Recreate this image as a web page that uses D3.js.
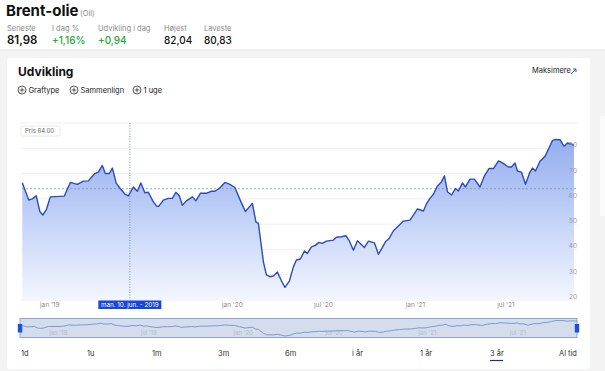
<!doctype html>
<html>
  <head>
    <title>Brent-olie</title>
    <meta charset="utf-8">
    <script src="https://cdn.jsdelivr.net/npm/d3@7"></script>
    <style>
      body { margin: 0; background: #fff; }
      svg { display: block; font-family: Inter, "Noto Sans", sans-serif; }
    </style>
  </head>
  <body>
    <div id="svgContainer"></div>
  </body>
  <script>
    var width = 605,
      height = 371;

    // weekly-ish closes
    var dates = [
      "2018-11-07","2018-11-20","2018-11-27","2018-12-05","2018-12-12","2018-12-18","2018-12-25",
      "2019-01-02","2019-01-30","2019-02-11","2019-02-25","2019-03-09","2019-03-19","2019-04-01",
      "2019-04-08","2019-04-16","2019-04-22","2019-04-30","2019-05-06","2019-05-14","2019-05-21",
      "2019-05-31","2019-06-07","2019-06-17","2019-06-25","2019-07-02","2019-07-10","2019-07-17",
      "2019-07-27","2019-08-02","2019-08-07","2019-08-16","2019-08-26","2019-09-03","2019-09-10",
      "2019-09-17","2019-09-23","2019-10-01","2019-10-13","2019-10-20","2019-10-29","2019-11-10",
      "2019-11-20","2019-11-27","2019-12-07","2019-12-17","2019-12-27","2020-01-06","2020-01-16",
      "2020-01-27","2020-02-10","2020-02-17","2020-02-22","2020-03-03","2020-03-09","2020-03-16",
      "2020-03-23","2020-03-31","2020-04-08","2020-04-15","2020-04-24","2020-05-02","2020-05-08",
      "2020-05-16","2020-05-24","2020-05-30","2020-06-07","2020-06-15","2020-06-22","2020-06-29",
      "2020-07-07","2020-07-21","2020-07-27","2020-08-06","2020-08-15","2020-08-21","2020-08-30",
      "2020-09-07","2020-09-21","2020-09-29","2020-10-11","2020-10-19","2020-10-27","2020-11-02",
      "2020-11-09","2020-11-18","2020-11-28","2020-12-08","2020-12-21","2020-12-28","2021-01-05",
      "2021-01-17","2021-01-23","2021-01-30","2021-02-06","2021-02-14","2021-02-22","2021-02-28",
      "2021-03-06","2021-03-14","2021-03-22","2021-03-28","2021-04-05","2021-04-11","2021-04-20",
      "2021-04-29","2021-05-10","2021-05-19","2021-05-28","2021-06-06","2021-06-16","2021-06-24",
      "2021-07-06","2021-07-12","2021-07-19","2021-07-24","2021-08-01","2021-08-09","2021-08-18",
      "2021-08-23","2021-08-29","2021-09-07","2021-09-17","2021-09-25","2021-10-02","2021-10-09",
      "2021-10-17","2021-10-25","2021-11-01","2021-11-09","2021-11-14"
    ];

    var prices = [
      66.4, 59.5, 60.0, 61.2, 55.0, 53.6, 55.7,
      60.8, 61.1, 66.5, 65.7, 67.0, 67.1, 70.0,
      70.6, 73.2, 70.0, 70.0, 72.2, 66.1, 64.3,
      61.9, 61.2, 64.7, 63.0, 66.3, 62.4, 62.6,
      58.8, 57.2, 57.1, 59.5, 60.2, 60.2, 62.6,
      61.1, 57.5, 59.2, 60.8, 59.2, 62.2, 62.2,
      63.0, 63.0, 64.3, 66.5, 65.7, 64.5, 59.8,
      55.0, 58.2, 50.9, 50.3, 35.1, 29.9, 29.2,
      29.5, 31.1, 27.6, 25.0, 27.5, 33.1, 35.8,
      36.2, 39.4, 38.4, 41.0, 41.6, 42.8, 42.4,
      43.3, 43.7, 44.8, 45.0, 45.4, 43.7, 39.7,
      43.4, 40.8, 43.3, 42.6, 38.1, 40.8, 43.0,
      44.2, 47.4, 49.3, 51.2, 51.6, 53.6, 56.0,
      55.2, 58.0, 60.2, 61.8, 65.1, 66.7, 69.1,
      62.8, 61.5, 64.1, 63.1, 66.3, 64.7, 67.8,
      67.8, 64.7, 69.1, 72.0, 72.0, 75.0, 74.2,
      72.6, 72.6, 74.2, 71.0, 70.6, 65.8, 70.6,
      72.2, 71.0, 74.9, 76.8, 80.1, 83.1, 83.5,
      83.4, 80.8, 82.1, 81.6, 81.2
    ];

    var yTicks = [20, 30, 40, 50, 60, 70, 80, 90];
    var xTickDates = ["2019-01-01", "2020-01-01", "2020-07-01", "2021-01-01", "2021-07-01"];
    var xTickLabels = ["jan '19", "jan '20", "jul '20", "jan '21", "jul '21"];
    var navTickDates = ["2019-01-01", "2019-07-01", "2020-01-01", "2020-07-01", "2021-01-01", "2021-07-01"];
    var navTickLabels = ["jan '19", "jul '19", "jan '20", "jul '20", "jan '21", "jul '21"];

    var statLabels = ["Seneste", "I dag %", "Udvikling i dag", "Højest", "Laveste"];
    var statValues = ["81,98", "+1,16%", "+0,94", "82,04", "80,83"];
    var toolLabels = ["Graftype", "Sammenlign", "1 uge"];
    var rangeLabels = ["1d", "1u", "1m", "3m", "6m", "i år", "1 år", "3 år", "Al tid"];

    var refPrice = 64;
    var hoverDate = "2019-06-10";
    var hoverText = "man. 10. jun. - 2019";

    var parse = d3.timeParse("%Y-%m-%d");
    var data = dates.map(function(d, i) {
      return { date: parse(d), price: prices[i] };
    });

    var svg = d3.select("#svgContainer")
                .append("svg")
                .attr("width", width)
                .attr("height", height);

    // page background + card
    svg.append("rect").attr("x", 0).attr("y", 0).attr("width", width).attr("height", height)
      .attr("fill", "#f3f3f4");
    svg.append("rect").attr("x", 0).attr("y", 0).attr("width", width).attr("height", 50)
      .attr("fill", "#fff");
    svg.append("line").attr("x1", 0).attr("x2", width).attr("y1", 50).attr("y2", 50)
      .attr("stroke", "#e6e6e6");
    svg.append("rect").attr("x", 7).attr("y", 58).attr("width", 583).attr("height", 311)
      .attr("rx", 3).attr("fill", "#fff");
    svg.append("rect").attr("x", 600).attr("y", 116).attr("width", 5).attr("height", 100)
      .attr("fill", "#fafafa");

    // header
    svg.append("text").attr("x", 6).attr("y", 16)
      .attr("font-size", 15).attr("font-weight", 700).attr("fill", "#111")
      .text("Brent-olie");
    svg.append("text").attr("x", 80).attr("y", 16)
      .attr("font-size", 7.5).attr("fill", "#888").text("(Oil)");

    var statX = [7, 52, 98, 164, 204];
    var statColors = ["#111", "#22a83a", "#22a83a", "#111", "#111"];
    statLabels.forEach(function(l, i) {
      svg.append("text").attr("x", statX[i]).attr("y", 31)
        .attr("font-size", 7.5).attr("fill", "#8a8a8a").text(l);
      svg.append("text").attr("x", statX[i]).attr("y", 43.5)
        .attr("font-size", i === 0 ? 11.5 : 10).attr("font-weight", i === 0 ? 600 : 500)
        .attr("fill", statColors[i]).text(statValues[i]);
    });

    // card header
    svg.append("text").attr("x", 18).attr("y", 76)
      .attr("font-size", 12).attr("font-weight", 700).attr("fill", "#111").text("Udvikling");
    svg.append("text").attr("x", 532).attr("y", 73)
      .attr("font-size", 7.5).attr("fill", "#222").text("Maksimere");
    svg.append("path").attr("d", "M571,74 L576,69 M573,69 L576,69 L576,72")
      .attr("stroke", "#2c5bd6").attr("stroke-width", 1).attr("fill", "none");

    var toolX = [18, 70, 133];
    toolLabels.forEach(function(l, i) {
      var g = svg.append("g").attr("transform", "translate(" + toolX[i] + ",90)");
      g.append("circle").attr("cx", 4).attr("cy", 0).attr("r", 4)
        .attr("fill", "none").attr("stroke", "#333").attr("stroke-width", 0.8);
      g.append("path").attr("d", "M4,-2.4 V2.4 M1.6,0 H6.4")
        .attr("stroke", "#333").attr("stroke-width", 0.8);
      g.append("text").attr("x", 10.5).attr("y", 2.8)
        .attr("font-size", 7.5).attr("fill", "#222").text(l);
    });

    // main chart
    var x = d3.scaleTime()
      .domain(d3.extent(data, function(d) { return d.date; }))
      .range([22.3, 574]);
    var y = d3.scaleLinear().domain([20, 90]).range([300, 123]);

    var defs = svg.append("defs");
    var grad = defs.append("linearGradient").attr("id", "areaGrad")
      .attr("gradientUnits", "userSpaceOnUse")
      .attr("x1", 0).attr("x2", 0).attr("y1", 130).attr("y2", 300);
    grad.append("stop").attr("offset", "0%").attr("stop-color", "#8ea9ee");
    grad.append("stop").attr("offset", "50%").attr("stop-color", "#c0d0f7");
    grad.append("stop").attr("offset", "100%").attr("stop-color", "#f3f6fe");

    var group = svg.append("g");

    group.selectAll("line.grid")
      .data(yTicks)
      .enter()
      .append("line")
      .attr("class", "grid")
      .attr("x1", 21).attr("x2", 577)
      .attr("y1", function(d) { return y(d); })
      .attr("y2", function(d) { return y(d); })
      .attr("stroke", "#eceef3").attr("stroke-width", 1);

    var area = d3.area()
      .x(function(d) { return x(d.date); })
      .y0(y(20))
      .y1(function(d) { return y(d.price); });
    var line = d3.line()
      .x(function(d) { return x(d.date); })
      .y(function(d) { return y(d.price); });

    group.append("path").datum(data).attr("d", area).attr("fill", "url(#areaGrad)");

    group.append("line")
      .attr("x1", 22).attr("x2", 577)
      .attr("y1", y(refPrice)).attr("y2", y(refPrice))
      .attr("stroke", "#7f93bf").attr("stroke-width", 0.8).attr("stroke-dasharray", "2,2");

    group.append("path").datum(data).attr("d", line)
      .attr("fill", "none").attr("stroke", "#2a4dbb").attr("stroke-width", 1.4)
      .attr("stroke-linejoin", "round");

    group.selectAll("text.ytick")
      .data(yTicks.slice(0, 7))
      .enter()
      .append("text")
      .attr("class", "ytick")
      .attr("x", 577).attr("y", function(d) { return y(d) - 1; })
      .attr("text-anchor", "end")
      .attr("font-size", 6.5).attr("fill", "#9a9a9a")
      .text(function(d) { return d; });

    group.selectAll("text.xtick")
      .data(xTickDates)
      .enter()
      .append("text")
      .attr("class", "xtick")
      .attr("x", function(d) { return x(parse(d)); })
      .attr("y", 306.5)
      .attr("text-anchor", "middle")
      .attr("font-size", 6.5).attr("fill", "#8a8a8a")
      .text(function(d, i) { return xTickLabels[i]; });

    // price box
    group.append("rect").attr("x", 21).attr("y", 126).attr("width", 39).attr("height", 10)
      .attr("rx", 1.5).attr("fill", "#fff").attr("stroke", "#e2e2e2").attr("stroke-width", 0.8);
    group.append("text").attr("x", 25).attr("y", 133.3)
      .attr("font-size", 6).attr("fill", "#666").text("Pris " + refPrice.toFixed(2));

    // crosshair
    var hx = x(parse(hoverDate));
    group.append("line").attr("x1", hx).attr("x2", hx).attr("y1", 123).attr("y2", 300)
      .attr("stroke", "#5a78c0").attr("stroke-width", 0.8).attr("stroke-dasharray", "1,1.6");
    group.append("rect").attr("x", hx - 31.5).attr("y", 300.5).attr("width", 63).attr("height", 8.5)
      .attr("fill", "#1846d8");
    group.append("text").attr("x", hx).attr("y", 307)
      .attr("text-anchor", "middle").attr("font-size", 6.3).attr("fill", "#fff")
      .text(hoverText);

    // navigator
    var nx = d3.scaleTime().domain(x.domain()).range([20, 577]);
    var ny = d3.scaleLinear().domain(d3.extent(prices)).range([336, 320.5]);
    var nav = svg.append("g");
    nav.append("rect").attr("x", 20).attr("y", 318.5).attr("width", 557).attr("height", 19)
      .attr("fill", "#d3ddec").attr("stroke", "#8ba5dc").attr("stroke-width", 1);
    nav.selectAll("text.navtick")
      .data(navTickDates)
      .enter()
      .append("text")
      .attr("class", "navtick")
      .attr("x", function(d) { return nx(parse(d)) + 1.5; })
      .attr("y", 334.5)
      .attr("font-size", 6).attr("fill", "#b3bccb")
      .text(function(d, i) { return navTickLabels[i]; });
    nav.append("path").datum(data)
      .attr("d", d3.line()
        .x(function(d) { return nx(d.date); })
        .y(function(d) { return ny(d.price); }))
      .attr("fill", "none").attr("stroke", "#7590d3").attr("stroke-width", 0.9);
    [20, 577].forEach(function(hxp) {
      nav.append("rect").attr("x", hxp - 2.2).attr("y", 324).attr("width", 4.4).attr("height", 8.5)
        .attr("fill", "#1d4fe0");
    });

    // range buttons
    var rangeX = [21, 87, 152, 218, 285, 352, 420, 490, 559];
    rangeLabels.forEach(function(l, i) {
      svg.append("text").attr("x", rangeX[i]).attr("y", 356)
        .attr("font-size", 7.5).attr("fill", "#333").text(l);
    });
    svg.append("line").attr("x1", 490).attr("x2", 503).attr("y1", 360.5).attr("y2", 360.5)
      .attr("stroke", "#1b2f8a").attr("stroke-width", 1.2);
  </script>
</html>
